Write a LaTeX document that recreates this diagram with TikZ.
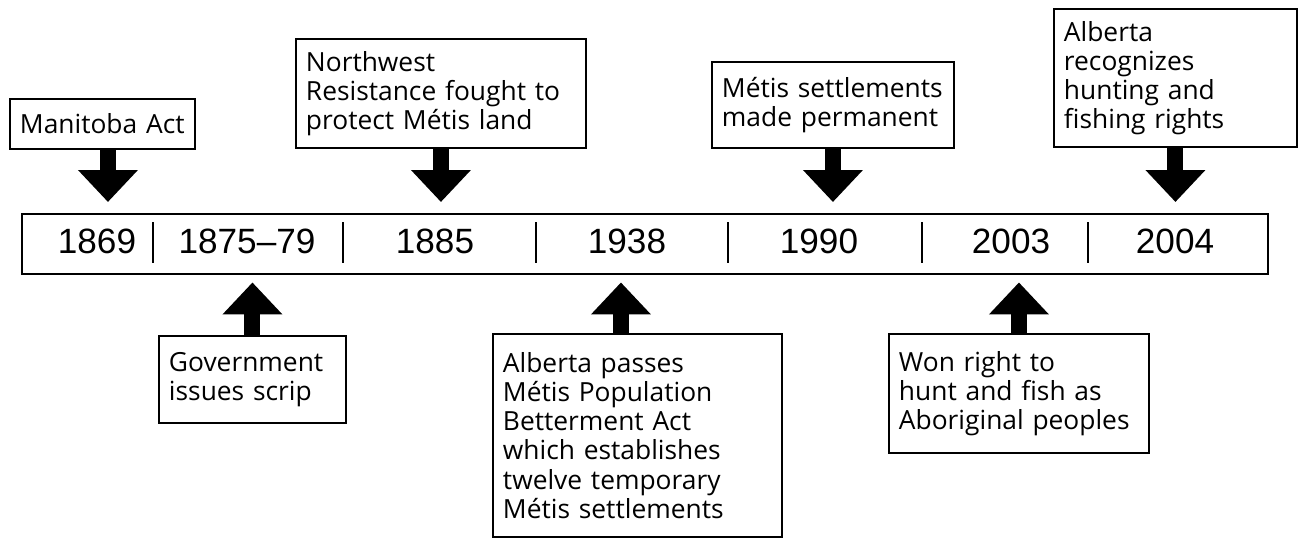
\documentclass[tikz,border=0pt]{standalone}
\usepackage{fontspec}
\newfontfamily\labelfont{Open Sans}
\newfontfamily\yearfont{Liberation Sans}
\usetikzlibrary{arrows.meta}

\begin{document}
\begin{tikzpicture}[x=0.02cm,y=-0.02cm]
  \tikzstyle{event}=[draw,line width=1.1pt,align=left,inner xsep=0.2cm,inner ysep=0pt,anchor=north west,font=\labelfont\fontsize{15}{16.6}\selectfont]
  \tikzstyle{year}=[anchor=base,font=\yearfont\fontsize{20}{22}\selectfont]
  \tikzstyle{bigarrow}=[line width=0.32cm,-{Triangle[width=1.16cm,length=0.64cm]}]
  \useasboundingbox (0,0) rectangle (1298,538);
  % timeline bar
  \node (bar) [draw,line width=1.4pt,anchor=north west,minimum width=24.92cm,minimum height=1.2cm,inner sep=0pt] at (21,213) {};
  \foreach \yr/\x [count=\i] in {1869/97,1875–79/247,1885/435,1938/627,1990/819,2003/1011,2004/1175}
    \node (yr\i) [year] at (\x,253) {\yr};
  \foreach \x in {153,343,536,728,922,1088}
    \draw[line width=1.1pt] (\x,222) -- (\x,263);
  % events above the bar
  \node (mani) [event,text width=3.3cm,minimum height=1cm] at (9,98) {Manitoba Act};
  \node (nw) [event,text width=5.4cm,minimum height=2.18cm] at (295,38) {Northwest\\Resistance fought to\\protect Métis land};
  \node (metis) [event,text width=4.44cm,minimum height=1.72cm] at (711,61) {Métis settlements\\made permanent};
  \node (albrec) [event,text width=4.46cm,minimum height=2.76cm] at (1053,8) {Alberta\\recognizes\\hunting and\\fishing rights};
  % events below the bar
  \node (gov) [event,text width=3.34cm,minimum height=1.74cm] at (158,335) {Government\\issues scrip};
  \node (pass) [event,text width=5.38cm,minimum height=4.06cm] at (492,333) {Alberta passes\\Métis Population\\Betterment Act\\which establishes\\twelve temporary\\Métis settlements};
  \node (won) [event,text width=4.8cm,minimum height=2.38cm] at (888,333) {Won right to\\hunt and fish as\\Aboriginal peoples};
  % arrows
  \draw[bigarrow,shorten >=0.22cm] ([xshift=0.11cm]mani.south) -- ([xshift=0.11cm]mani.south |- bar.north);
  \draw[bigarrow,shorten >=0.22cm] (nw.south) -- (nw.south |- bar.north);
  \draw[bigarrow,shorten >=0.22cm] (metis.south) -- (metis.south |- bar.north);
  \draw[bigarrow,shorten >=0.22cm] (albrec.south) -- (albrec.south |- bar.north);
  \draw[bigarrow,shorten >=0.14cm] (gov.north) -- (gov.north |- bar.south);
  \draw[bigarrow,shorten >=0.14cm] ([xshift=-0.33cm]pass.north) -- ([xshift=-0.33cm]pass.north |- bar.south);
  \draw[bigarrow,shorten >=0.14cm] (won.north) -- (won.north |- bar.south);
\end{tikzpicture}
\end{document}
